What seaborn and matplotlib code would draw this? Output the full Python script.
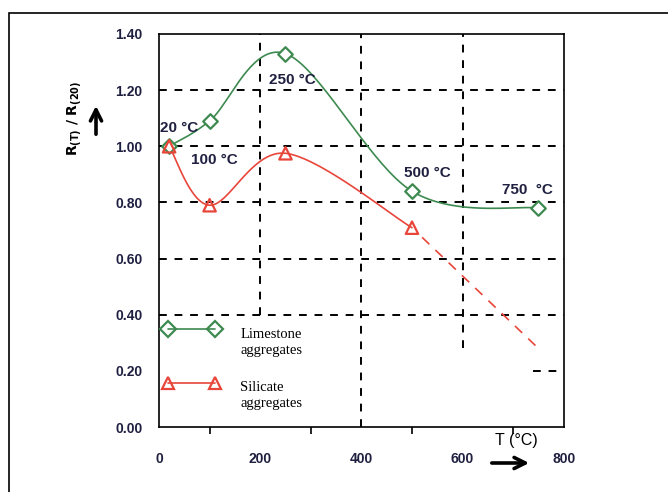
import numpy as np
import matplotlib.pyplot as plt
import seaborn as sns
from matplotlib.lines import Line2D
from matplotlib.patches import Rectangle

# values
temps_lime = [20, 100, 250, 500, 750]
ratio_lime = [1.00, 1.09, 1.33, 0.84, 0.78]
temps_sil = [20, 100, 250, 500]
ratio_sil = [1.00, 0.79, 0.975, 0.71]
sil_ext_t = [500, 750]
sil_ext_r = [0.71, 0.28]
labels = ['20 \u00b0C', '100 \u00b0C', '250 \u00b0C', '500 \u00b0C', '750  \u00b0C']
label_pos = [(2, 1.065), (63, 0.95), (218, 1.235), (485, 0.905), (677, 0.845)]
legend_names = ['Limestone\naggregates', 'Silicate\naggregates']

# dashed grid, with the parts that the original leaves out
grid_x = [200, 400, 600]
grid_x_from = [0.40, 0.0, 0.28]
grid_y = [0.2, 0.4, 0.6, 0.8, 1.0, 1.2]
grid_y_from = [740, 0, 0, 0, 0, 0]

green = '#3d8a50'
red = '#e8463a'
navy = '#1f2040'


def smooth_curve(x, y, sx=0.505, sy=281.0, n=40):
    # Excel-like smoothed line: Bezier pieces through the points, in screen units
    P = np.column_stack([np.asarray(x, float) * sx, np.asarray(y, float) * sy])
    Pe = np.vstack([P[0], P, P[-1]])
    t = np.linspace(0, 1, n)[:, None]
    pts = []
    for i in range(len(P) - 1):
        p0, p1 = P[i], P[i + 1]
        c1 = p0 + (Pe[i + 2] - Pe[i]) / 6
        c2 = p1 - (Pe[i + 3] - Pe[i + 1]) / 6
        seg = ((1 - t) ** 3 * p0 + 3 * (1 - t) ** 2 * t * c1
               + 3 * (1 - t) * t ** 2 * c2 + t ** 3 * p1)
        pts.append(seg if i == 0 else seg[1:])
    pts = np.vstack(pts)
    return pts[:, 0] / sx, pts[:, 1] / sy


sns.set_theme(style="white")
plt.rcParams['font.family'] = ['Liberation Sans', 'DejaVu Sans']

fig = plt.figure(figsize=(6.68, 4.92), dpi=100)
ax = fig.add_axes([0.238, 0.132, 0.606, 0.799])

# frame round the picture
fig.patches.append(Rectangle((9 / 668, -0.1), 1.2, 0.974 + 0.1, transform=fig.transFigure,
                             fill=False, edgecolor='black', linewidth=1.2))

for gx, g0 in zip(grid_x, grid_x_from):
    ax.vlines(gx, g0, 1.4, color='black', linestyle=(0, (4, 4)), linewidth=1.4, zorder=1)
for gy, g0 in zip(grid_y, grid_y_from):
    ax.hlines(gy, g0, 800, color='black', linestyle=(0, (4, 4)), linewidth=1.4, zorder=1)

lx, ly = smooth_curve(temps_lime, ratio_lime)
sx_, sy_ = smooth_curve(temps_sil, ratio_sil)
sns.lineplot(x=lx, y=ly, ax=ax, color=green, linewidth=1.2, sort=False, zorder=3)
sns.lineplot(x=sx_, y=sy_, ax=ax, color=red, linewidth=1.2, sort=False, zorder=3)
ext = np.array(sil_ext_t, float)
ext_r = np.array(sil_ext_r, float)
frac = 0.08  # the dashes start a little after the marker
sns.lineplot(x=[ext[0] + frac * (ext[1] - ext[0]), ext[1]],
             y=[ext_r[0] + frac * (ext_r[1] - ext_r[0]), ext_r[1]],
             ax=ax, color=red, linewidth=1.2, zorder=3).lines[-1].set_dashes([6, 5])

sns.scatterplot(x=temps_lime, y=ratio_lime, ax=ax, marker='D', s=55, facecolor='white',
                edgecolor=green, linewidth=1.6, zorder=4)
sns.scatterplot(x=temps_sil, y=ratio_sil, ax=ax, marker='^', s=80, facecolor='none',
                edgecolor=red, linewidth=1.6, zorder=5)

for lab, (px, py) in zip(labels, label_pos):
    ax.text(px, py, lab, fontsize=11, color=navy, ha='left', va='center',
            fontweight='bold', zorder=6)

ax.set_xlim(0, 800)
ax.set_ylim(0, 1.4)
ax.set_xticks([0, 200, 400, 600, 800])
ax.set_xticks([100, 300, 500, 700], minor=True)
yt = np.arange(0, 1.41, 0.2)
ax.set_yticks(yt)
ax.set_yticklabels([f'{v:.2f}' for v in yt])
ax.tick_params(axis='both', which='major', direction='out', length=8, width=1.2,
               color='black', labelsize=10, labelcolor=navy, pad=4)
ax.tick_params(axis='x', which='minor', direction='out', length=5, width=1.2,
               color='black', bottom=True)
ax.tick_params(axis='x', which='major', pad=10)
for t in ax.get_xticklabels() + ax.get_yticklabels():
    t.set_fontweight('bold')
for sp in ax.spines.values():
    sp.set_color('black')
    sp.set_linewidth(1.2)
ax.grid(False)
ax.set_xlabel('')
ax.set_ylabel('')

fig.text(75 / 668, 1 - 118 / 492, r'$\mathbf{R_{(T)}\ /\ R_{(20)}}$', rotation=90,
         ha='center', va='center', fontsize=10, color='black')
fig.text(516 / 668, 1 - 440 / 492, 'T (\u00b0C)', fontsize=11.5, ha='center', va='center',
         color='black')
ax.annotate('', xy=(96, 492 - 103), xytext=(96, 492 - 137), xycoords='figure pixels',
            textcoords='figure pixels',
            arrowprops=dict(arrowstyle='->', lw=2.6, color='black', mutation_scale=20))
ax.annotate('', xy=(532, 492 - 463), xytext=(489, 492 - 463), xycoords='figure pixels',
            textcoords='figure pixels',
            arrowprops=dict(arrowstyle='->', lw=2.6, color='black', mutation_scale=20))

handles = [Line2D([], [], color=green, marker='D', mfc='none', mec=green, mew=1.6, ms=8, lw=1.2),
           Line2D([], [], color=red, marker='^', mfc='none', mec=red, mew=1.6, ms=9, lw=1.2)]
leg = ax.legend(handles, [' ', ' '], loc='upper left', bbox_to_anchor=(0.0124, 0.265),
                numpoints=2, handlelength=4.0, handletextpad=0, labelspacing=2.85,
                frameon=False, borderpad=0, borderaxespad=0, fontsize=10)
for name, ty in zip(legend_names, [0.214, 0.081]):
    ax.text(0.2005, ty, name, transform=ax.transAxes, ha='left', va='center',
            fontsize=10.5, family='Liberation Serif', linespacing=1.3, color='black')

fig.savefig('out.png', dpi=100)
plt.close(fig)
